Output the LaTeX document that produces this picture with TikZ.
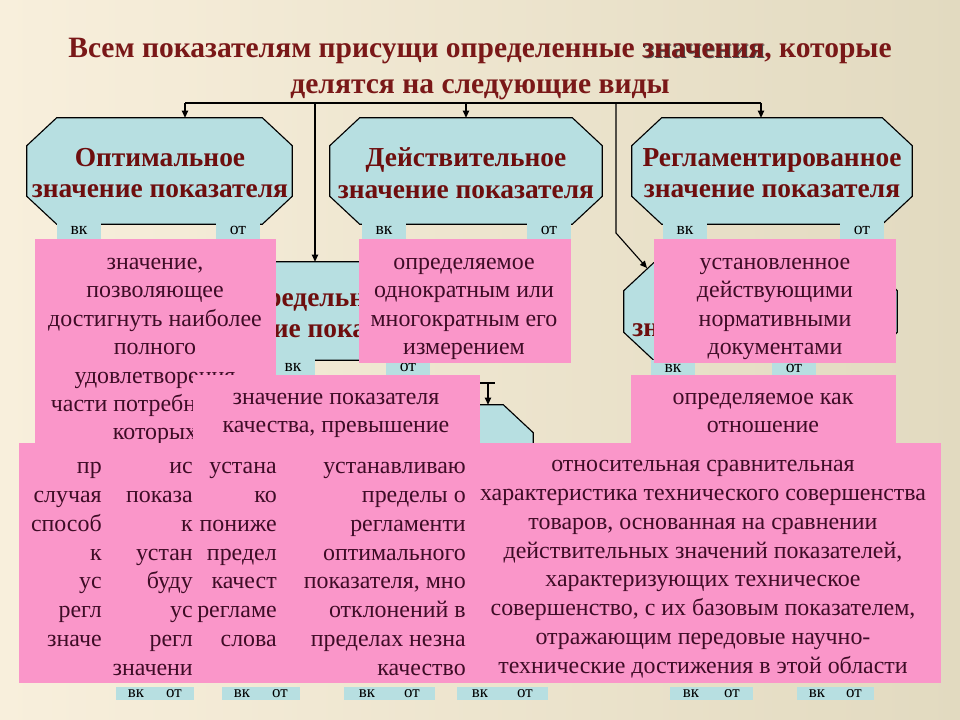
\documentclass[tikz,border=0pt]{standalone}
\usepackage{fontspec}
\setmainfont{Liberation Serif}
\usetikzlibrary{positioning,arrows.meta,calc}

\definecolor{bgleft}{RGB}{248,239,220}
\definecolor{bgright}{RGB}{226,218,192}
\definecolor{octblue}{RGB}{183,223,225}
\definecolor{notepink}{RGB}{250,150,201}
\definecolor{headred}{RGB}{122,24,24}
\definecolor{octred}{RGB}{110,14,14}
\definecolor{noteink}{RGB}{62,12,38}

\newcommand{\px}{*0.025cm}

\tikzset{
	link/.style={draw=black, line width=0.8pt},
	arr/.style={link, -{Triangle[length=5pt,width=4.5pt]}},
	octline/.style={draw=black, line width=0.8pt, fill=octblue},
	octtitle/.style={font=\fontsize{19.5}{22.5}\selectfont\bfseries, text=octred, align=center, inner sep=0pt},
	headtext/.style={font=\fontsize{21}{25}\selectfont\bfseries, text=headred, align=center, inner sep=0pt},
	tab/.style={fill=octblue, inner sep=0pt, minimum width=44\px, minimum height=17\px, anchor=north, font=\fontsize{12.5}{12.5}\selectfont},
	bartab/.style={fill=octblue, inner sep=0pt, minimum width=40\px, minimum height=13\px, text height=7pt, text depth=1pt, font=\fontsize{12}{12}\selectfont},
	note/.style={fill=notepink, inner sep=0pt, anchor=north west},
	notetext/.style={font=\fontsize{17}{20.2}\selectfont, text=noteink, align=center, inner sep=0pt, anchor=north, execute at begin node=\strut},
	cuttext/.style={notetext, font=\fontsize{17}{20.5}\selectfont, align=right, anchor=north east},
}

% octagon: name, left, right, top, bottom
\newcommand{\octbox}[5]{%
	\node[inner sep=0pt, minimum width={(#3-#2)\px}, minimum height={(#5-#4)\px}] (#1) at ({(#2+#3)/2},{(#4+#5)/2}) {};
	\filldraw[octline] ($(#1.north west)+(30,0)$) -- ($(#1.north east)+(-30,0)$) -- ($(#1.north east)+(0,28)$)
		-- ($(#1.south east)+(0,-28)$) -- ($(#1.south east)+(-30,0)$) -- ($(#1.south west)+(30,0)$)
		-- ($(#1.south west)+(0,-28)$) -- ($(#1.north west)+(0,28)$) -- cycle;
}

\begin{document}
\begin{tikzpicture}[x=0.025cm, y=-0.025cm]

	\useasboundingbox (0,0) rectangle (960,720);
	\shade[left color=bgleft, right color=bgright] (0,0) rectangle (960,720);

	% title
	\node[headtext, text=black!70] (headshade) at (481,70) {\phantom{Всем показателям присущи определенные }значения\phantom{, которые}\\\phantom{делятся на следующие виды}};
	\node[headtext] (head) at (480,69) {Всем показателям присущи определенные значения, которые\\делятся на следующие виды};

	% connectors
	\coordinate (fork1) at (185,103);
	\coordinate (fork2) at (761,103);
	\coordinate (drop4) at (315,103);
	\coordinate (drop5) at (616,103);
	\coordinate (bend5) at (616,233);
	\coordinate (oct5in) at (647,268);
	\coordinate (feed6) at (420,383);
	\coordinate (stub6) at (495,383);
	\coordinate (drop6) at (488,383);

	\octbox{oct1}{27}{292}{118}{224}
	\octbox{oct2}{330}{602}{118}{224}
	\octbox{oct3}{632}{912}{118}{224}
	\octbox{oct4}{205}{462}{262}{360}
	\octbox{oct5}{624}{897}{263}{360}
	\octbox{oct6}{275}{533}{405}{500}

	\draw[link] (fork1) -- (fork2);
	\draw[arr] (fork1) -- (fork1 |- oct1.north);
	\draw[arr] (oct2.north |- fork1) -- (oct2.north);
	\draw[arr] (fork2) -- (fork2 |- oct3.north);
	\draw[arr] (drop4) -- (drop4 |- oct4.north);
	\draw[arr] (drop5) -- (bend5) -- (oct5in);
	\draw[link] (feed6) -- (stub6);
	\draw[arr] (drop6) -- (drop6 |- oct6.north);

	\node[octtitle] (oct1title) at (160,173) {Оптимальное\\значение показателя};
	\node[octtitle] (oct2title) at (466,173) {Действительное\\значение показателя};
	\node[octtitle] (oct3title) at (772,173) {Регламентированное\\значение показателя};
	\node[octtitle] (oct4title) at (318,313) {Предельное\\значение показателя};
	\node[octtitle, anchor=west] (oct5title) at (632,330) {значение показателя};

	\node[tab] (oct1vk) at (79,222) {вк};
	\node[tab] (oct1ot) at (238,222) {от};
	\node[tab] (oct2vk) at (384,222) {вк};
	\node[tab] (oct2ot) at (549,222) {от};
	\node[tab] (oct3vk) at (685,222) {вк};
	\node[tab] (oct3ot) at (862,222) {от};
	\node[tab] (oct4vk) at (293,359) {вк};
	\node[tab] (oct4ot) at (408,359) {от};
	\node[tab] (oct5vk) at (673,360) {вк};
	\node[tab] (oct5ot) at (794,360) {от};

	% definitions
	\node[note, minimum width=241\px, minimum height=205\px] (optnote) at (35,239) {};
	\node[notetext] (opttext) at (155,258) {значение,\\позволяющее\\достигнуть наиболее\\полного\\удовлетворения\\части потребностей,\\которых};
	\node[note, minimum width=212\px, minimum height=124\px] (actnote) at (359,239) {};
	\node[notetext] (acttext) at (464,258) {определяемое\\однократным или\\многократным его\\измерением};
	\node[note, minimum width=242\px, minimum height=124\px] (regnote) at (654,239) {};
	\node[notetext] (regtext) at (775,258) {установленное\\действующими\\нормативными\\документами};

	\node[note, minimum width=287\px, minimum height=70\px] (limnote) at (193,375) {};
	\node[notetext] (limtext) at (336,393) {значение показателя\\качества, превышение};
	\node[note, minimum width=265\px, minimum height=70\px] (relnote) at (631,375) {};
	\node[notetext] (reltext) at (763,393) {определяемое как\\отношение};

	\node[note, minimum width=922\px, minimum height=240\px] (bignote) at (19,443) {};
	\node[cuttext] (cutA) at (102,462) {пр\\случая\\способ\\к\\ус\\регл\\значе};
	\node[cuttext] (cutB) at (193,462) {ис\\показа\\к\\устан\\буду\\ус\\регл\\значени};
	\node[cuttext] (cutC) at (277,462) {устана\\ко\\пониже\\предел\\качест\\регламе\\слова};
	\node[cuttext] (cutD) at (466,462) {устанавливаю\\пределы о\\регламенти\\оптимального\\показателя, мно\\отклонений в\\пределах незна\\качество};
	\node[notetext, font=\fontsize{17}{20.5}\selectfont] (techtext) at (703,460) {относительная сравнительная\\характеристика технического совершенства\\товаров, основанная на сравнении\\действительных значений показателей,\\характеризующих техническое\\совершенство, с их базовым показателем,\\отражающим передовые научно-\\технические достижения в этой области};

	% tabs under the big box
	\node[bartab] (bar1vk) at (136,693) {вк};
	\node[bartab] (bar1ot) at (174,693) {от};
	\node[bartab] (bar2vk) at (242,693) {вк};
	\node[bartab] (bar2ot) at (280,693) {от};
	\node[bartab, minimum width=46\px] (bar3vk) at (367,693) {вк};
	\node[bartab, minimum width=46\px] (bar3ot) at (412,693) {от};
	\node[bartab, minimum width=46\px] (bar4vk) at (480,693) {вк};
	\node[bartab, minimum width=46\px] (bar4ot) at (525,693) {от};
	\node[bartab, minimum width=42\px] (bar5vk) at (691,693) {вк};
	\node[bartab, minimum width=42\px] (bar5ot) at (732,693) {от};
	\node[bartab] (bar6vk) at (817,693) {вк};
	\node[bartab] (bar6ot) at (854,693) {от};

\end{tikzpicture}
\end{document}
